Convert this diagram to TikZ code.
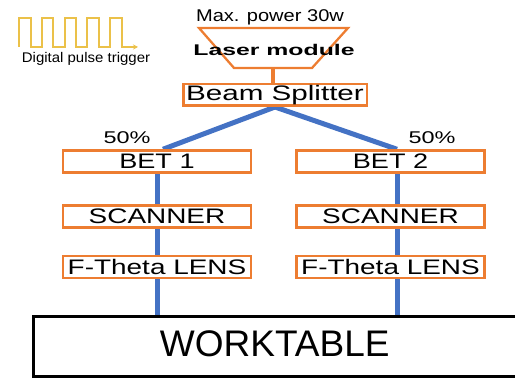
\documentclass[tikz,border=0pt]{standalone}
\usepackage{fontspec}
\setmainfont{Liberation Sans}
\usetikzlibrary{arrows.meta,backgrounds}
\definecolor{boxorange}{HTML}{ED7D31}
\definecolor{beamblue}{HTML}{4472C4}
\definecolor{pulsegold}{HTML}{EBC149}
% horizontally widened lettering
\newcommand\widetext[2]{\scalebox{#1}[1]{#2}}
\begin{document}
\begin{tikzpicture}[x=1pt,y=-1pt,
  stagebox/.style={draw=boxorange, line width=2.5pt, fill=white,
    minimum width=188pt, minimum height=22pt, inner sep=0pt,
    font=\fontsize{21}{21}\selectfont},
  beam/.style={draw=beamblue, line width=5pt},
  pctlabel/.style={inner sep=0pt, font=\fontsize{17}{17}\selectfont},
]
\clip (0,0) rectangle (515,379);

% digital pulse train
\draw[pulsegold, line width=1.3pt, -{Stealth[length=5pt,width=5pt]}]
  (19,47) -- (19,18) -- (31,18) -- (31,47) -- (42,47) -- (42,18) -- (53,18) -- (53,47)
  -- (65,47) -- (65,18) -- (76,18) -- (76,47) -- (87,47) -- (87,18) -- (99,18) -- (99,47)
  -- (110,47) -- (110,18) -- (122,18) -- (122,47) -- (138,47);
\node[inner sep=0pt, font=\fontsize{14}{14}\selectfont] (pulsetext) at (86,59)
  {\widetext{1.07}{Digital pulse trigger}};

% laser source
\node[inner sep=0pt, font=\fontsize{17}{17}\selectfont] (maxpower) at (270,17)
  {\widetext{1.18}{Max. power 30w}};
\draw[boxorange, line width=2.3pt, line join=miter] (199,28) -- (348,28) -- (312,68) -- (234,68) -- cycle;
\coordinate (laserbase) at (273,68);
\node[inner sep=0pt, font=\bfseries\fontsize{15.5}{15.5}\selectfont] (lasertext) at (274,50)
  {\widetext{1.6}{Laser module}};

% splitter and the two optical chains
\node[stagebox, minimum width=183.5pt, minimum height=21.5pt] (split) at (275,95)
  {\widetext{1.41}{Beam Splitter}};

\node[stagebox] (bet1) at (157,161.5) {\widetext{1.29}{BET 1}};
\node[stagebox] (scan1) at (157,216.5) {\widetext{1.33}{SCANNER}};
\node[stagebox] (lens1) at (157,267) {\widetext{1.33}{F-Theta LENS}};

\node[stagebox] (bet2) at (390.5,161.5) {\widetext{1.29}{BET 2}};
\node[stagebox] (scan2) at (390.5,216.5) {\widetext{1.33}{SCANNER}};
\node[stagebox] (lens2) at (390.5,267) {\widetext{1.33}{F-Theta LENS}};

\node[pctlabel] (pct1) at (127,138) {\widetext{1.38}{50\%}};
\node[pctlabel] (pct2) at (432,138) {\widetext{1.38}{50\%}};

\node[draw=black, line width=3pt, fill=white, minimum width=483pt, minimum height=60pt,
  inner sep=0pt, text height=27pt, text depth=7pt, font=\fontsize{37}{37}\selectfont]
  (table) at (274.75,346.5) {WORKTABLE};

% beam paths behind the boxes
\begin{scope}[on background layer]
  \draw[boxorange, line width=4.5pt] (laserbase) -- (laserbase |- split.north);
  \draw[beam] (split.south) -- ([xshift=6pt]bet1.north);
  \draw[beam] (split.south) -- ([xshift=6.5pt]bet2.north);
  \draw[beam] (bet1.center) -- (bet1.center |- table.north);
  \draw[beam] ([xshift=6.5pt]bet2.center) -- ([xshift=6.5pt]bet2.center |- table.north);
\end{scope}
\end{tikzpicture}
\end{document}
